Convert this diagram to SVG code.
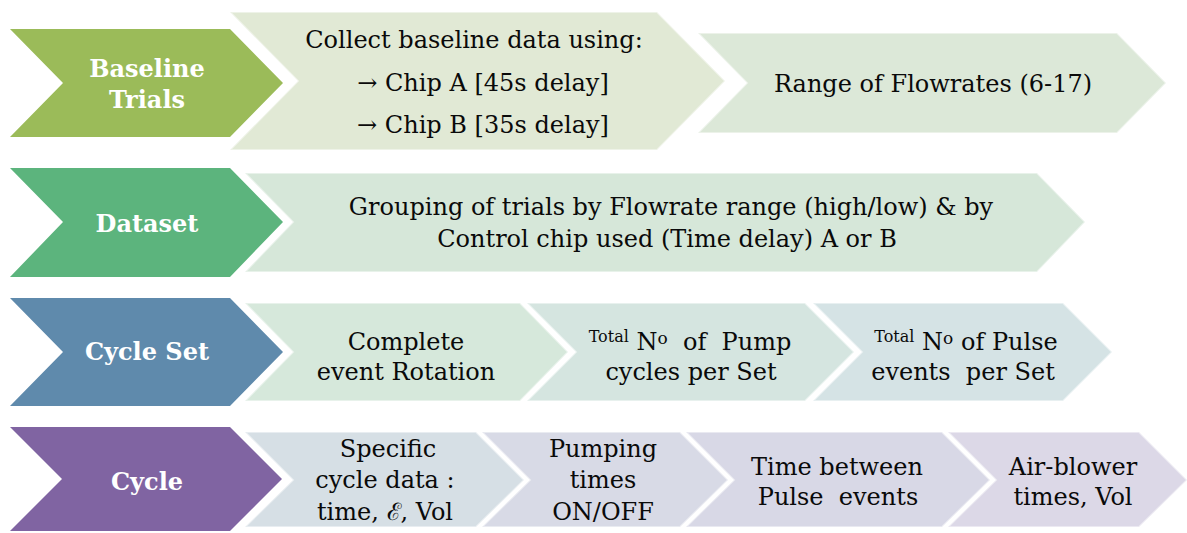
<svg xmlns="http://www.w3.org/2000/svg" width="1187" height="533" viewBox="0 0 1187 533">
<style>
.lt{stroke:#ffffff;stroke-opacity:0.45;stroke-width:2;stroke-linejoin:miter}
.hd{font-family:"DejaVu Serif","Liberation Serif",serif;font-weight:bold;font-size:24px;fill:#ffffff;text-anchor:middle}
.tx{font-family:"DejaVu Serif","Liberation Serif",serif;font-size:24px;fill:#0a0a0a;text-anchor:middle}
.sm{font-size:16px}
.sup{font-size:17px}
</style>
<rect width="1187" height="533" fill="#ffffff"/>
<g id="connectors"></g>

<g id="baseline-trials">
<polygon points="10,29 230,29 283,83 230,137 10,137 63,83" fill="#9BBB59"/>
<text class="hd" x="147" y="77">Baseline</text>
<text class="hd" x="147" y="108">Trials</text>
</g>
<g id="collect-baseline">
<polygon class="lt" points="230,12 657,12 725,81 657,150 230,150 298,81" fill="#E1E9D5"/>
<text class="tx" x="474" y="48">Collect baseline data using:</text>
<text class="tx" x="483" y="91">→ Chip A [45s delay]</text>
<text class="tx" x="483" y="133">→ Chip B [35s delay]</text>
</g>
<g id="range-flowrates">
<polygon class="lt" points="698,33 1117,33 1166,83 1117,133 698,133 747,83" fill="#DCE8D8"/>
<text class="tx" x="933" y="92">Range of Flowrates (6-17)</text>
</g>

<g id="dataset">
<polygon points="10,168 230,168 283,222 230,277 10,277 63,222" fill="#5CB47D"/>
<text class="hd" x="147" y="232">Dataset</text>
</g>
<g id="grouping">
<polygon class="lt" points="245,173 1037,173 1085,222 1037,272 245,272 293,222" fill="#D6E7D9"/>
<text class="tx" x="671" y="215">Grouping of trials by Flowrate range (high/low) &amp; by</text>
<text class="tx" x="667" y="247">Control chip used (Time delay) A or B</text>
</g>

<g id="cycle-set">
<polygon points="10,298 230,298 283,352 230,406 10,406 63,352" fill="#5F8AAC"/>
<text class="hd" x="147" y="360">Cycle Set</text>
</g>
<g id="complete-rotation">
<polygon class="lt" points="245,303 520,303 568,352 520,401 245,401 293,352" fill="#D6E8DB"/>
<text class="tx" x="406" y="350">Complete</text>
<text class="tx" x="406" y="380">event Rotation</text>
</g>
<g id="pump-cycles">
<polygon class="lt" points="527,303 805,303 854,352 805,401 527,401 576,352" fill="#D5E5E0"/>
<text class="tx" x="690" y="350" xml:space="preserve"><tspan class="sm" dy="-8">Total</tspan><tspan dy="8"> N</tspan><tspan class="sup" dy="-6">o</tspan><tspan dy="6">  of  Pump</tspan></text>
<text class="tx" x="691" y="380">cycles per Set</text>
</g>
<g id="pulse-events">
<polygon class="lt" points="813,303 1063,303 1112,352 1063,401 813,401 862,352" fill="#D5E3E5"/>
<text class="tx" x="966" y="350" xml:space="preserve"><tspan class="sm" dy="-8">Total</tspan><tspan dy="8"> N</tspan><tspan class="sup" dy="-6">o</tspan><tspan dy="6"> of Pulse</tspan></text>
<text class="tx" x="963" y="380" xml:space="preserve">events  per Set</text>
</g>

<g id="cycle">
<polygon points="10,427 230,427 282,479 230,531 10,531 62,479" fill="#8064A2"/>
<text class="hd" x="147" y="490">Cycle</text>
</g>
<g id="specific-cycle">
<polygon class="lt" points="245,432 476,432 524,480 476,527 245,527 293,480" fill="#D6DFE5"/>
<text class="tx" x="388" y="457">Specific</text>
<text class="tx" x="385" y="488">cycle data :</text>
<text class="tx" x="385" y="520">time, ℰ, Vol</text>
</g>
<g id="pumping-times">
<polygon class="lt" points="482,432 680,432 728,480 680,527 482,527 530,480" fill="#D8DAE6"/>
<text class="tx" x="603" y="457">Pumping</text>
<text class="tx" x="603" y="488">times</text>
<text class="tx" x="603" y="520">ON/OFF</text>
</g>
<g id="time-between">
<polygon class="lt" points="686,432 942,432 990,480 942,527 686,527 734,480" fill="#D8D8E6"/>
<text class="tx" x="837" y="475">Time between</text>
<text class="tx" x="838" y="505" xml:space="preserve">Pulse  events</text>
</g>
<g id="air-blower">
<polygon class="lt" points="948,432 1139,432 1187,480 1139,527 948,527 996,480" fill="#DCD8E7"/>
<text class="tx" x="1073" y="475">Air-blower</text>
<text class="tx" x="1073" y="505">times, Vol</text>
</g>
</svg>
